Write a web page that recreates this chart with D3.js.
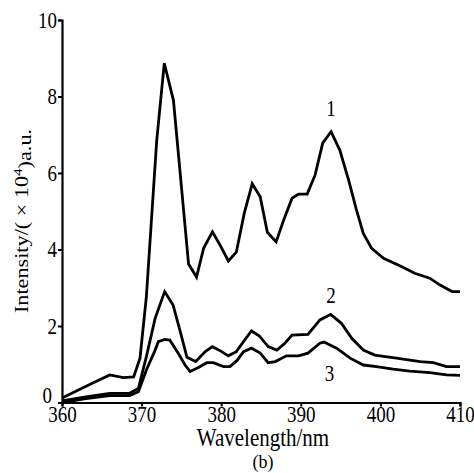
<!DOCTYPE html>
<html>
<head>
<meta charset="utf-8">
<script src="https://cdn.jsdelivr.net/npm/d3@7"></script>
<style>
  body { margin: 0; background: #fff; }
</style>
</head>
<body>
<svg id="chart"></svg>
<script>
// wavelength (nm) and intensity (x10^4 a.u.)
const wl1 = [360, 362, 364, 366, 367.7, 369, 369.8, 370.6, 371.9, 372.85, 374, 375.9, 376.9, 377.8, 378.9, 379.9, 380.9, 381.9, 382.9, 383.9, 384.9, 385.8, 386.9, 387.9, 388.9, 389.7, 390.8, 391.8, 392.75, 393.8, 394.9, 396, 397, 397.85, 398.9, 400.4, 402.7, 404.3, 406.2, 407.5, 409, 410];
const int1 = [0.12, 0.32, 0.52, 0.72, 0.65, 0.67, 1.16, 2.77, 6.85, 8.87, 7.9, 3.62, 3.28, 4.04, 4.46, 4.1, 3.7, 3.93, 4.95, 5.72, 5.38, 4.45, 4.2, 4.8, 5.34, 5.45, 5.45, 5.95, 6.78, 7.08, 6.6, 5.82, 5.03, 4.42, 4.03, 3.77, 3.55, 3.38, 3.25, 3.07, 2.9, 2.9];

const wl2 = [360, 363, 366, 368.5, 369.6, 370.6, 371.7, 372.9, 373.95, 374.8, 375.7, 376.8, 378, 378.9, 379.9, 380.9, 381.9, 382.9, 383.8, 384.8, 385.9, 387, 388, 388.9, 390.9, 392.4, 393.75, 395.1, 396.4, 397.85, 399.3, 402, 405, 406.65, 408.3, 410];
const int2 = [0.04, 0.15, 0.24, 0.24, 0.37, 1.2, 2.2, 2.9, 2.55, 1.9, 1.18, 1.07, 1.33, 1.46, 1.35, 1.22, 1.33, 1.62, 1.87, 1.74, 1.46, 1.37, 1.55, 1.76, 1.78, 2.16, 2.3, 2.07, 1.68, 1.37, 1.24, 1.16, 1.07, 1.04, 0.94, 0.94];

const wl3 = [360, 363, 366, 368.5, 369.6, 370.6, 371.7, 372.1, 372.9, 373.55, 374.6, 375.45, 376.1, 377.2, 378.2, 379, 380.3, 381.1, 382, 382.8, 383.8, 384.9, 385.9, 386.8, 388.2, 389.7, 390.9, 392.4, 392.9, 394.5, 396.2, 397.85, 399.5, 401.6, 403.7, 406.2, 408.3, 410];
const int3 = [0.0, 0.1, 0.18, 0.18, 0.28, 0.85, 1.37, 1.59, 1.65, 1.63, 1.29, 0.98, 0.81, 0.92, 1.04, 1.04, 0.94, 0.94, 1.1, 1.33, 1.42, 1.29, 1.04, 1.07, 1.22, 1.22, 1.29, 1.55, 1.58, 1.42, 1.16, 0.98, 0.94, 0.87, 0.82, 0.78, 0.72, 0.71];

const curveNames = ["1", "2", "3"];
// where each curve label sits: [wavelength, intensity]
const labelAt = [[393.8, 7.5], [393.8, 2.6], [393.6, 0.55]];

const xTicks = [360, 370, 380, 390, 400, 410];
const yTicks = [0, 2, 4, 6, 8, 10];

const width = 474, height = 473;
const S = 1.17; // the source figure is stretched a little vertically
const fs = 19;
const serif = "'Liberation Serif', 'DejaVu Serif', 'Times New Roman', serif";

const svg = d3.select("#chart").attr("width", width).attr("height", height)
  .style("font-family", serif);

const x = d3.scaleLinear().domain([360, 410]).range([62, 460]);
const y = d3.scaleLinear().domain([0, 10]).range([402.5, 20]);

const series = [[wl1, int1], [wl2, int2], [wl3, int3]].map(([w, v]) => w.map((d, i) => [d, v[i]]));

const line = d3.line().x((d) => x(d[0])).y((d) => y(d[1]));

svg.append("g")
  .selectAll("path")
  .data(series)
  .join("path")
  .attr("d", line)
  .attr("fill", "none")
  .attr("stroke", "#000")
  .attr("stroke-width", 2.8)
  .attr("stroke-linejoin", "miter");

// axes
const xAxis = svg.append("g")
  .attr("transform", `translate(0,${y(0)})`)
  .call(d3.axisBottom(x).tickValues(xTicks).tickSize(4).tickFormat(d3.format("d")));
const yAxis = svg.append("g")
  .attr("transform", `translate(${x(360)},0)`)
  .call(d3.axisLeft(y).tickValues(yTicks).tickSize(4).tickFormat(d3.format("d")));

[xAxis, yAxis].forEach((g) => {
  g.attr("font-family", null).attr("font-size", null);
  g.select(".domain").attr("stroke", "#000").attr("stroke-width", 2.2);
  g.selectAll(".tick line").attr("stroke", "#000").attr("stroke-width", 2);
  g.selectAll("text").style("font-family", serif).style("font-size", fs + "px").attr("fill", "#000");
});
xAxis.selectAll("text").attr("y", 3.5).attr("dy", "0.71em").attr("transform", `scale(1,${S})`);
yAxis.selectAll("text").attr("x", -5).attr("dy", "0.33em").attr("transform", `scale(1,${S})`);
// the "0" sits in the corner, keep it clear of "360"
yAxis.selectAll(".tick").filter((d) => d === 0).select("text").attr("x", -10).attr("dy", "0em");

// axis titles
svg.append("text")
  .attr("transform", `translate(263,446) scale(1,${S})`)
  .attr("text-anchor", "middle")
  .style("font-family", serif)
  .style("font-size", "21px")
  .text("Wavelength/nm");

svg.append("text")
  .attr("transform", "translate(263,467.5) scale(1,1.05)")
  .attr("text-anchor", "middle")
  .style("font-family", serif)
  .style("font-size", "18px")
  .text("(b)");

const yl = svg.append("text")
  .attr("transform", `translate(28,221) rotate(-90) scale(${S},1)`)
  .attr("text-anchor", "middle")
  .style("font-family", serif)
  .style("font-size", fs + "px");
yl.append("tspan").text("Intensity/( \u00d7 10");
yl.append("tspan").attr("dy", "-0.45em").style("font-size", "13px").text("4");
yl.append("tspan").attr("dy", "0.45em").text(")a.u.");

// curve labels
svg.append("g")
  .selectAll("text")
  .data(curveNames)
  .join("text")
  .attr("transform", (d, i) => `translate(${x(labelAt[i][0])},${y(labelAt[i][1])}) scale(1,${S})`)
  .attr("text-anchor", "middle")
  .style("font-family", serif)
  .style("font-size", fs + "px")
  .text((d) => d);
</script>
</body>
</html>
